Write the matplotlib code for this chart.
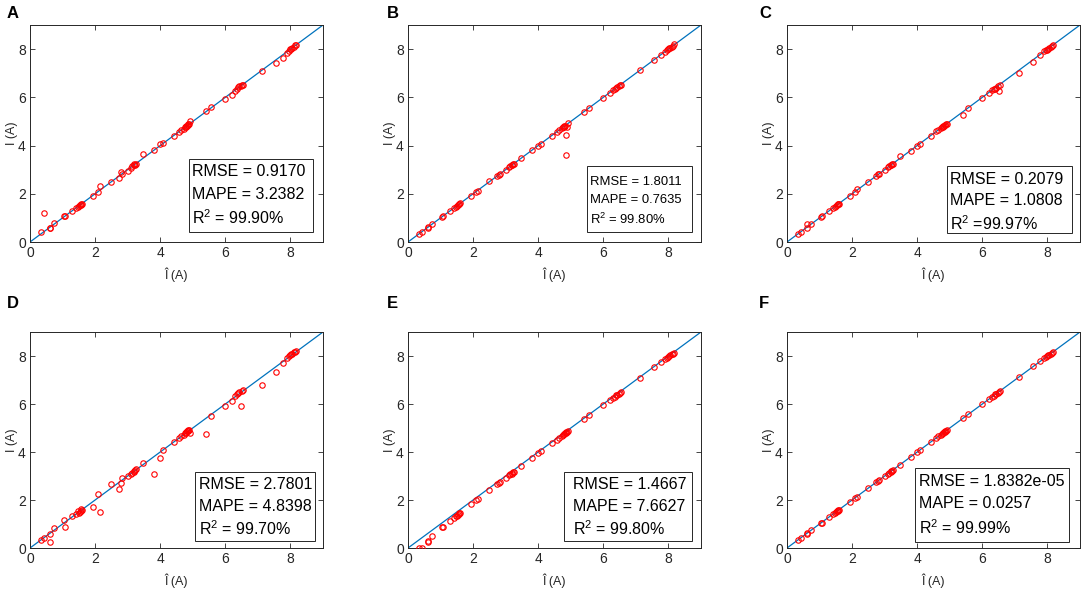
import matplotlib
matplotlib.use("Agg")
import matplotlib.pyplot as plt
from matplotlib.patches import Rectangle

plt.rcParams['font.family'] = ['Liberation Sans', 'DejaVu Sans']
plt.rcParams['mathtext.fontset'] = 'custom'
plt.rcParams['mathtext.rm'] = 'Liberation Sans'
plt.rcParams['mathtext.it'] = 'Liberation Sans:italic'

# ---------------- data ----------------
panel_letters = ["A", "B", "C", "D", "E", "F"]

i_hat = [0.35, 0.42, 0.60, 0.62, 0.75,
         1.04, 1.06, 1.30, 1.40, 1.47,
         1.50, 1.53, 1.56, 1.58, 1.60,
         1.93, 2.10, 2.14, 2.50, 2.73,
         2.78, 2.84, 3.00, 3.10, 3.14,
         3.18, 3.20, 3.22, 3.25, 3.47,
         3.80, 4.00, 4.08, 4.42, 4.58,
         4.65, 4.72, 4.75, 4.78, 4.80,
         4.83, 4.85, 4.86, 4.88, 4.90,
         5.42, 5.57, 6.00, 6.22, 6.30,
         6.35, 6.40, 6.43, 6.47, 6.50,
         6.55, 7.13, 7.57, 7.78, 7.90,
         7.95, 8.00, 8.03, 8.06, 8.10,
         8.13, 8.17]

i_A = [0.42, 1.22, 0.60, 0.56, 0.80,
       1.08, 1.08, 1.28, 1.40, 1.46,
       1.50, 1.52, 1.55, 1.58, 1.58,
       1.90, 2.08, 2.34, 2.50, 2.66,
       2.92, 2.80, 2.95, 3.07, 3.14,
       3.20, 3.22, 3.20, 3.24, 3.65,
       3.80, 4.05, 4.12, 4.40, 4.55,
       4.65, 4.70, 4.75, 4.78, 4.80,
       4.83, 4.85, 4.90, 4.88, 5.02,
       5.42, 5.60, 5.93, 6.10, 6.25,
       6.35, 6.42, 6.45, 6.48, 6.50,
       6.52, 7.10, 7.42, 7.62, 7.82,
       7.92, 8.00, 8.02, 8.05, 8.10,
       8.15, 8.18]

i_B = [0.35, 0.42, 0.60, 0.62, 0.75,
       1.05, 1.06, 1.28, 1.40, 1.46,
       1.50, 1.53, 1.56, 1.58, 1.60,
       1.92, 2.08, 2.12, 2.52, 2.73,
       2.78, 2.84, 3.00, 3.10, 3.14,
       3.18, 3.20, 3.22, 3.25, 3.50,
       3.80, 4.00, 4.05, 4.40, 4.58,
       4.66, 4.72, 4.75, 4.78, 4.80,
       4.83, 4.42, 3.60, 4.75, 4.92,
       5.40, 5.57, 5.97, 6.20, 6.30,
       6.35, 6.40, 6.43, 6.47, 6.50,
       6.53, 7.13, 7.55, 7.76, 7.90,
       7.95, 8.00, 8.03, 8.06, 8.10,
       8.13, 8.20]

i_C = [0.35, 0.42, 0.73, 0.60, 0.74,
       1.05, 1.06, 1.28, 1.40, 1.47,
       1.50, 1.53, 1.56, 1.57, 1.58,
       1.90, 2.08, 2.18, 2.50, 2.73,
       2.80, 2.82, 2.98, 3.10, 3.14,
       3.18, 3.20, 3.22, 3.25, 3.57,
       3.78, 3.98, 4.05, 4.40, 4.60,
       4.65, 4.72, 4.75, 4.78, 4.80,
       4.83, 4.85, 4.86, 4.88, 4.88,
       5.25, 5.55, 5.97, 6.18, 6.30,
       6.33, 6.36, 6.40, 6.45, 6.28,
       6.52, 7.00, 7.48, 7.75, 7.92,
       7.97, 7.98, 8.00, 8.05, 8.10,
       8.13, 8.18]

i_D = [0.33, 0.40, 0.60, 0.27, 0.85,
       1.15, 0.86, 1.32, 1.40, 1.55,
       1.45, 1.50, 1.55, 1.62, 1.58,
       1.70, 2.25, 1.52, 2.65, 2.45,
       2.70, 2.90, 3.00, 3.08, 3.12,
       3.18, 3.22, 3.25, 3.28, 3.55,
       3.10, 3.77, 4.10, 4.42, 4.60,
       4.65, 4.72, 4.78, 4.80, 4.85,
       4.87, 4.88, 4.90, 4.92, 4.78,
       4.75, 5.48, 5.92, 6.12, 6.32,
       6.40, 6.45, 6.50, 5.92, 6.53,
       6.58, 6.78, 7.33, 7.70, 7.90,
       8.00, 8.05, 8.08, 8.10, 8.15,
       8.18, 8.22]

i_E = [0.00, 0.00, 0.27, 0.28, 0.48,
       0.86, 0.88, 1.12, 1.25, 1.32,
       1.35, 1.38, 1.42, 1.45, 1.47,
       1.82, 2.00, 2.05, 2.42, 2.65,
       2.70, 2.76, 2.92, 3.03, 3.07,
       3.10, 3.13, 3.15, 3.18, 3.42,
       3.75, 3.95, 4.03, 4.37, 4.52,
       4.60, 4.67, 4.70, 4.73, 4.75,
       4.78, 4.80, 4.82, 4.84, 4.86,
       5.38, 5.53, 5.97, 6.18, 6.26,
       6.31, 6.36, 6.39, 6.43, 6.46,
       6.51, 7.10, 7.54, 7.75, 7.87,
       7.92, 7.97, 8.00, 8.03, 8.07,
       8.10, 8.14]

i_F = [0.35, 0.42, 0.60, 0.62, 0.75,
       1.04, 1.06, 1.30, 1.40, 1.47,
       1.50, 1.53, 1.56, 1.58, 1.60,
       1.93, 2.10, 2.14, 2.50, 2.73,
       2.78, 2.84, 3.00, 3.10, 3.14,
       3.18, 3.20, 3.22, 3.25, 3.47,
       3.80, 4.00, 4.08, 4.42, 4.58,
       4.65, 4.72, 4.75, 4.78, 4.80,
       4.83, 4.85, 4.86, 4.88, 4.90,
       5.42, 5.57, 6.00, 6.22, 6.30,
       6.35, 6.40, 6.43, 6.47, 6.50,
       6.55, 7.13, 7.57, 7.78, 7.90,
       7.95, 8.00, 8.03, 8.06, 8.10,
       8.13, 8.17]

rmse_text = ["0.9170", "1.8011", "0.2079", "2.7801", "1.4667", "1.8382e-05"]
mape_text = ["3.2382", "0.7635", "1.0808", "4.8398", "7.6627", "0.0257"]
r2_text = ["R$^2$ = 99.90%", "R$^2$ = 99.80%", "R$^2$ =99.97%",
           "R$^2$ = 99.70%", "R$^2$ = 99.80%", "R$^2$ = 99.99%"]

ideal_line = [0, 9]
tick_values = [0, 2, 4, 6, 8]

# ---------------- layout ----------------
W, H = 1084, 590
fig = plt.figure(figsize=(W / 100, H / 100), dpi=100)

col_left = [30, 408, 787]
row_top = [25, 332]
row_h = [217, 216]
ax_w = 293

# box geometry (axes fraction): x0, x1, y0, y1, text-left, line y's, fontsize
box_geom = [
    (0.543, 0.966, 0.046, 0.382, 0.553, (0.327, 0.221, 0.112), 11.5),
    (0.611, 0.969, 0.046, 0.350, 0.621, (0.276, 0.195, 0.105), 9.4),
    (0.546, 0.973, 0.041, 0.350, 0.556, (0.286, 0.190, 0.085), 11.5),
    (0.563, 0.973, 0.032, 0.352, 0.577, (0.292, 0.192, 0.090), 11.5),
    (0.532, 0.969, 0.032, 0.352, 0.563, (0.292, 0.192, 0.090), 11.5),
    (0.437, 0.962, 0.028, 0.370, 0.451, (0.306, 0.206, 0.094), 11.5),
]

ys = [i_A, i_B, i_C, i_D, i_E, i_F]
axcol = '#262626'

for k in range(6):
    r, c = divmod(k, 3)
    left = col_left[c] / W
    bottom = 1 - (row_top[r] + row_h[r]) / H
    ax = fig.add_axes([left, bottom, ax_w / W, row_h[r] / H])
    ax.plot(ideal_line, ideal_line, color='#0072BD', lw=0.9, zorder=2)
    ax.plot(i_hat, ys[k], linestyle='none', marker='o', ms=3.9,
            mfc='none', mec='#FF0000', mew=0.8, zorder=3)
    ax.set_xlim(0, 9)
    ax.set_ylim(0, 9)
    ax.set_xticks(tick_values)
    ax.set_yticks(tick_values)
    ax.tick_params(direction='in', top=True, right=True, length=3.5,
                   width=0.6, colors=axcol, labelsize=10, pad=3)
    for s in ax.spines.values():
        s.set_color(axcol)
        s.set_linewidth(0.7)
    ax.set_xlabel("Î (A)", fontsize=9, color=axcol, labelpad=5)
    ax.set_ylabel("I (A)", fontsize=9, color=axcol, labelpad=0)

    x0, x1, y0, y1, tl, ly, fs = box_geom[k]
    ax.add_patch(Rectangle((x0, y0), x1 - x0, y1 - y0, transform=ax.transAxes,
                           facecolor='white', edgecolor=axcol, lw=0.7, zorder=4))
    lines = ["RMSE = " + rmse_text[k], "MAPE = " + mape_text[k], r2_text[k]]
    for t, yy in zip(lines, ly):
        ax.text(tl, yy, t, transform=ax.transAxes, ha='left', va='center',
                fontsize=fs, color='black', zorder=5)

    # panel letter
    lx = [7, 387, 759][c] / W
    lyy = 1 - [14, 303][r] / H
    fig.text(lx, lyy, panel_letters[k], fontsize=12, fontweight='bold',
             ha='left', va='center', color='black')

fig.savefig("out.png", dpi=100)
